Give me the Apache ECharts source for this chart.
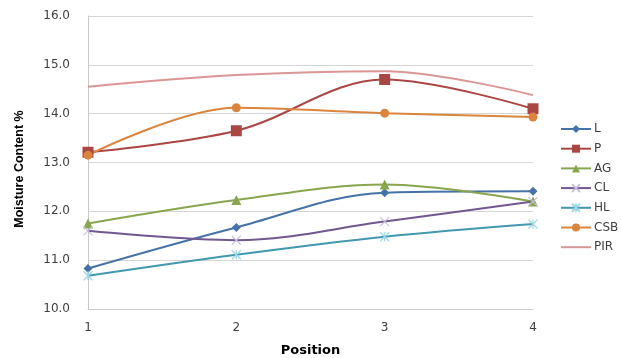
<!DOCTYPE html>
<html>
<head>
<meta charset="utf-8">
<script src="https://cdn.jsdelivr.net/npm/echarts@6/dist/echarts.min.js"></script>
<style>html,body{margin:0;padding:0;background:#fff}#c{width:621px;height:358px}</style>
</head>
<body>
<div id="c"></div>
<script>
var positions = ['1', '2', '3', '4'];
var L   = [10.83, 11.67, 12.38, 12.41];
var P   = [13.21, 13.65, 14.70, 14.10];
var AG  = [11.75, 12.23, 12.55, 12.20];
var CL  = [11.60, 11.41, 11.79, 12.20];
var HL  = [10.68, 11.11, 11.48, 11.74];
var CSB = [13.15, 14.12, 14.01, 13.93];
var PIR = [14.55, 14.79, 14.87, 14.38];
var seriesNames = ['L', 'P', 'AG', 'CL', 'HL', 'CSB', 'PIR'];
var yTicks = ['10.0', '11.0', '12.0', '13.0', '14.0', '15.0', '16.0'];

var xPath = 'path://M0,0 L10,10 M10,0 L0,10';
var starPath = 'path://M0,0 L10,10 M10,0 L0,10 M5,0 L5,10';

function mk(name, data, color, symbol, size, symColor) {
  return {
    name: name, type: 'line', data: data, smooth: 0.35,
    symbol: symbol, symbolSize: size, showSymbol: symbol !== 'none',
    lineStyle: { color: color, width: 2 },
    itemStyle: symColor ? { color: symColor, borderColor: symColor, borderWidth: 1.2 } : { color: color, borderWidth: 0 },
    color: color,
    emphasis: { disabled: true }
  };
}

var legendData = seriesNames.map(function (n) {
  return n === 'PIR' ? { name: n, itemStyle: { opacity: 0 } } : { name: n };
});

var chart = echarts.init(document.getElementById('c'), null, { renderer: 'canvas' });
chart.setOption({
  animation: false,
  backgroundColor: '#fff',
  grid: { left: 88, right: 88, top: 16, bottom: 49, outerBoundsMode: 'none' },
  legend: {
    orient: 'vertical', left: 555, top: 118,
    itemWidth: 30, itemHeight: 10, itemGap: 7.7,
    textStyle: { fontFamily: 'DejaVu Sans', fontSize: 12, color: '#404040', padding: [0, 0, 0, -2] },
    data: legendData
  },
  xAxis: {
    type: 'category', data: positions, boundaryGap: false,
    name: 'Position', nameLocation: 'middle', nameGap: 35,
    nameTextStyle: { fontFamily: 'DejaVu Sans', fontWeight: 'bold', fontSize: 13, color: '#000' },
    axisLine: { lineStyle: { color: '#d0d0d0' } },
    axisTick: { show: false },
    axisLabel: { fontFamily: 'DejaVu Sans', fontSize: 12, color: '#404040', margin: 13 },
    splitLine: { show: false }
  },
  yAxis: {
    type: 'value', min: 10, max: 16, interval: 1,
    name: 'Moisture Content %', nameLocation: 'middle', nameGap: 62, nameRotate: 90,
    nameTextStyle: { fontFamily: 'Liberation Sans Narrow, Liberation Sans', fontWeight: 'bold', fontSize: 12.5, color: '#000', padding: [0, 13, 0, 0] },
    axisLine: { show: true, lineStyle: { color: '#c8c8c8' } },
    axisTick: { show: false },
    axisLabel: { fontFamily: 'DejaVu Sans', fontSize: 12, color: '#404040', margin: 18,
      formatter: function (v) { return yTicks[Math.round(v - 10)]; } },
    splitLine: { lineStyle: { color: '#d6d6d6' } }
  },
  series: [
    mk('L', L, '#4572A7', 'diamond', 9),
    mk('P', P, '#AA4643', 'rect', 11),
    mk('AG', AG, '#89A54E', 'triangle', 10),
    mk('CL', CL, '#71588F', xPath, 9, '#c7bde0'),
    mk('HL', HL, '#4198AF', starPath, 9, '#9ed8e8'),
    mk('CSB', CSB, '#DB843D', 'circle', 9),
    mk('PIR', PIR, '#D99694', 'none', 0)
  ]
});
</script>
</body>
</html>
